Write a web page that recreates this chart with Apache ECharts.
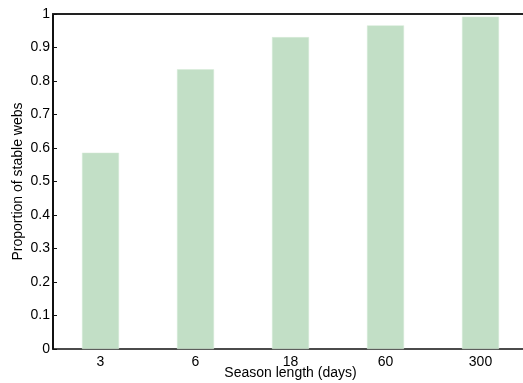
<!DOCTYPE html>
<html>
<head>
<meta charset="utf-8">
<script src="https://cdn.jsdelivr.net/npm/echarts@6/dist/echarts.min.js"></script>
<style>
  html, body { margin: 0; padding: 0; background: #fff; }
  #chart { width: 523px; height: 383px; }
</style>
</head>
<body>
<div id="chart"></div>
<script>
  // season lengths and proportion of stable webs
  const seasons = ['3', '6', '18', '60', '300'];
  const stableProp = [0.586, 0.835, 0.931, 0.966, 0.992];
  const yTicks = [0, 0.1, 0.2, 0.3, 0.4, 0.5, 0.6, 0.7, 0.8, 0.9, 1];

  const font = 'Liberation Sans';
  let myChart = echarts.init(document.getElementById('chart'));
  myChart.setOption({
    animation: false,
    grid: {
      left: 53,
      right: -5,
      top: 14,
      bottom: 34,
      outerBoundsMode: 'none',
      containLabel: false
    },
    xAxis: [
      {
        type: 'category',
        data: seasons,
        position: 'bottom',
        name: 'Season length (days)',
        nameLocation: 'middle',
        nameGap: 17,
        nameMoveOverlap: false,
        nameTextStyle: { color: '#000', fontSize: 14, fontFamily: font },
        axisLine: { lineStyle: { color: '#111', width: 1.5 } },
        axisTick: { show: false },
        axisLabel: { color: '#000', fontSize: 14, fontFamily: font, margin: 6 }
      },
      {
        type: 'category',
        data: seasons,
        position: 'top',
        axisLine: { lineStyle: { color: '#222', width: 2 } },
        axisTick: { inside: true, alignWithLabel: true, length: 4, lineStyle: { color: '#333' } },
        axisLabel: { show: false }
      }
    ],
    yAxis: {
      type: 'value',
      min: 0,
      max: 1,
      interval: 0.1,
      name: 'Proportion of stable webs',
      nameLocation: 'middle',
      nameGap: 28,
      nameMoveOverlap: false,
      nameTextStyle: { color: '#000', fontSize: 14, fontFamily: font },
      axisLine: { show: true, lineStyle: { color: '#111', width: 2 } },
      axisTick: { show: true, inside: true, length: 4, lineStyle: { color: '#111' } },
      splitLine: { show: false },
      axisLabel: {
        color: '#000', fontSize: 14, fontFamily: font, margin: 3,
        formatter: function (v) {
          const t = yTicks.find(function (k) { return Math.abs(k - v) < 1e-9; });
          return t === undefined ? '' : String(t);
        }
      }
    },
    series: [
      {
        type: 'bar',
        data: stableProp,
        barWidth: 37,
        itemStyle: {
          color: '#c2dfc6',
          borderColor: '#d6ead8',
          borderWidth: 0.5
        }
      }
    ]
  });
</script>
</body>
</html>
